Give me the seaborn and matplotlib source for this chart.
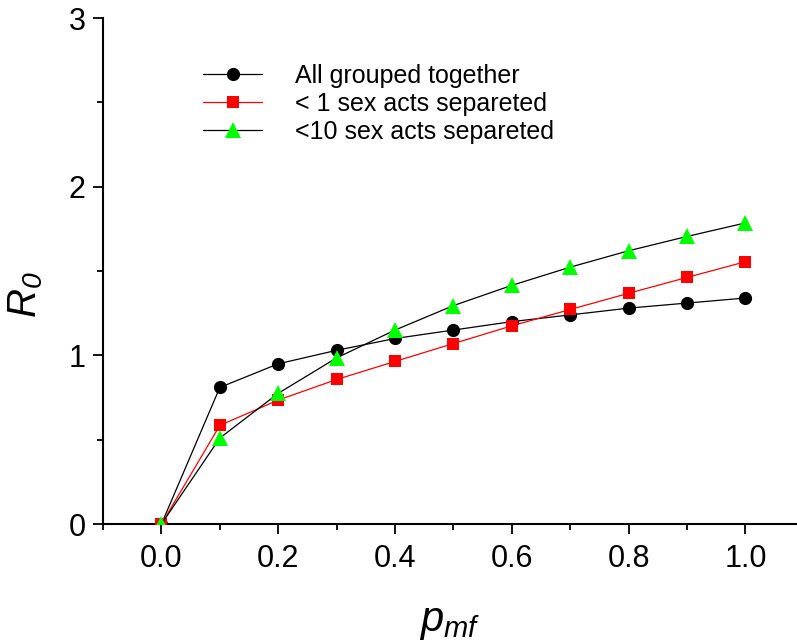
import matplotlib
matplotlib.use("Agg")
import matplotlib.pyplot as plt
import seaborn as sns
import pandas as pd
from matplotlib.ticker import MultipleLocator

p_mf = [0.0, 0.1, 0.2, 0.3, 0.4, 0.5, 0.6, 0.7, 0.8, 0.9, 1.0]
all_grouped = [0.0, 0.81, 0.95, 1.03, 1.10, 1.15, 1.20, 1.24, 1.28, 1.31, 1.34]
lt1_separated = [0.0, 0.585, 0.735, 0.857, 0.964, 1.07, 1.175, 1.272, 1.368, 1.462, 1.555]
lt10_separated = [0.0, 0.51, 0.775, 0.985, 1.15, 1.295, 1.415, 1.523, 1.62, 1.705, 1.785]
labels = ["All grouped together", "< 1 sex acts separeted", "<10 sex acts separeted"]

sns.set_theme(style="ticks")
plt.rcParams['font.family'] = ['Liberation Sans', 'DejaVu Sans']
plt.rcParams['mathtext.fontset'] = 'custom'
plt.rcParams['mathtext.it'] = 'Liberation Sans:italic'
plt.rcParams['mathtext.rm'] = 'Liberation Sans:italic'
for k in ['text.color', 'axes.labelcolor', 'xtick.color', 'ytick.color']:
    plt.rcParams[k] = 'black'

fig = plt.figure(figsize=(7.97, 6.43), dpi=100)
ax = fig.add_axes([0.1288, 0.185, 0.8712, 0.787])

series = [
    (all_grouped, labels[0], "black", "black", "o", 9.5),
    (lt1_separated, labels[1], "red", "red", "s", 9),
    (lt10_separated, labels[2], "black", "#00ff00", "^", 11),
]
for vals, lab, lc, mc, mk, ms in series:
    df = pd.DataFrame({"x": p_mf, "y": vals})
    sns.lineplot(data=df, x="x", y="y", ax=ax, color=lc, linewidth=0.9,
                 marker=mk, markersize=ms, markerfacecolor=mc,
                 markeredgecolor=mc, markeredgewidth=0, label=lab, zorder=3)

ax.set_xlim(-0.1007, 1.0884)
ax.set_ylim(0, 3)
ax.xaxis.set_minor_locator(MultipleLocator(0.1))
ax.yaxis.set_minor_locator(MultipleLocator(0.5))
ax.set_xticks([0.0, 0.2, 0.4, 0.6, 0.8, 1.0])
ax.set_xticklabels(["0.0", "0.2", "0.4", "0.6", "0.8", "1.0"])
ax.set_yticks([0, 1, 2, 3])
ax.set_yticklabels(["0", "1", "2", "3"])

for s in ["top", "right"]:
    ax.spines[s].set_visible(False)
for s in ["left", "bottom"]:
    ax.spines[s].set_linewidth(1.5)
    ax.spines[s].set_color("black")

ax.tick_params(axis="both", which="major", direction="out", length=7.2,
               width=1.3, color="black", labelsize=22, labelcolor="black")
ax.tick_params(axis="both", which="minor", direction="out", length=4.3,
               width=1.3, color="black")
ax.tick_params(axis="x", which="major", pad=7)
ax.tick_params(axis="y", which="major", pad=5)

ax.set_xlabel(r"$p_{mf}$", fontsize=30, labelpad=20)
ax.set_ylabel(r"$R_0$", fontsize=29)
ax.yaxis.set_label_coords(-0.083, 0.4526)

leg = ax.legend(loc="upper left", bbox_to_anchor=(0.1446, 0.91), frameon=False,
                fontsize=18, handlelength=2.36, handletextpad=1.32,
                labelspacing=0.16, borderaxespad=0, borderpad=0)
ax.grid(False)

fig.savefig("out.png", dpi=100)
